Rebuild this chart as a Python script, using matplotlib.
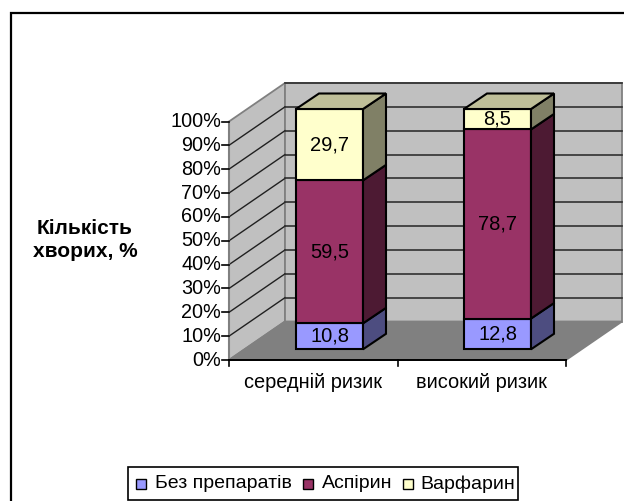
import matplotlib
matplotlib.use('Agg')
from matplotlib import pyplot as plt
from matplotlib.patches import Polygon, Rectangle
import numpy as np

categories = ['середній ризик', 'високий ризик']
series = ['Без препаратів', 'Аспірин', 'Варфарин']
no_drug = [10.8, 12.8]
aspirin = [59.5, 78.7]
warfarin = [29.7, 8.5]
y_ticks = [0, 10, 20, 30, 40, 50, 60, 70, 80, 90, 100]
y_labels = [f'{v}%' for v in y_ticks]

front = ['#9999FF', '#993366', '#FFFFCC']
side = ['#4D4D80', '#4D1A33', '#808066']
top = ['#BFBF99']

# plot box in image pixels
X0, X1 = 229, 566
Y0, Y100 = 360, 121.5
DX, DY = 56, -38.5
BAR_W = 67
BAR_LEFT = [296, 464]
BAR_BASE = 349.3
BAR_H = 240.3

plt.rcParams['font.family'] = ['Liberation Sans', 'DejaVu Sans']

fig = plt.figure(figsize=(6.24, 5.01), dpi=100)
ax = fig.add_axes([0, 0, 1, 1])
ax.set_xlim(0, 624)
ax.set_ylim(501, 0)
ax.axis('off')


def val_y(v):
    return Y0 - np.asarray(v) / 100 * (Y0 - Y100)


def bar_y(v):
    return BAR_BASE - np.asarray(v) / 100 * BAR_H


def poly(pts, fc, ec='black', lw=1.5, z=2):
    ax.add_patch(Polygon(pts, closed=True, fc=fc, ec=ec, lw=lw, zorder=z, joinstyle='miter'))


# outer frame
ax.add_patch(Rectangle((10.5, 12.5), 640, 520, fc='white', ec='black', lw=1.6, zorder=0))

# walls and floor
wall = '#C0C0C0'
edge = '#808080'
poly([(X0, Y0), (X0 + DX, Y0 + DY), (X0 + DX, Y100 + DY), (X0, Y100)], wall, edge, 1.3, 1)
poly([(X0 + DX, Y0 + DY), (X1 + DX, Y0 + DY), (X1 + DX, Y100 + DY), (X0 + DX, Y100 + DY)], wall, edge, 1.3, 1)
poly([(X0, Y0), (X1, Y0), (X1 + DX, Y0 + DY), (X0 + DX, Y0 + DY)], edge, edge, 1.3, 1)

# gridlines
for v in y_ticks[1:]:
    y = val_y(v)
    if v < 100:
        ax.plot([X0, X0 + DX], [y, y + DY], color='#202020', lw=1.0, zorder=1.5)
    ax.plot([X0 + DX, X1 + DX], [y + DY, y + DY], color='#303030', lw=1.2, zorder=1.5)

# axis lines and ticks
ax.plot([X0, X0], [Y100, Y0], color=edge, lw=1.5, zorder=1.6)
ax.plot([X0, X1], [Y0, Y0], color='black', lw=1.4, zorder=1.6)
for v, lab in zip(y_ticks, y_labels):
    y = val_y(v)
    ax.plot([X0 - 7, X0], [y, y], color='black', lw=1.2, zorder=1.6)
    ax.text(X0 - 8, y, lab, ha='right', va='center', fontsize=14.3, color='black')
for x in [X0, (X0 + X1) / 2, X1]:
    ax.plot([x, x], [Y0, Y0 + 6], color='black', lw=1.2, zorder=1.6)

# stacked bars
stacks = np.array([no_drug, aspirin, warfarin])
for i, cat in enumerate(categories):
    x = BAR_LEFT[i]
    base = 0
    ox, oy = 23, -15.5
    for j in range(len(series)):
        val = stacks[j, i]
        lo = bar_y(base)
        hi = bar_y(base + val)
        poly([(x, lo), (x + BAR_W, lo), (x + BAR_W, hi), (x, hi)], front[j], z=3)
        poly([(x + BAR_W, lo), (x + BAR_W + ox, lo + oy), (x + BAR_W + ox, hi + oy), (x + BAR_W, hi)], side[j], z=3)
        ax.text(x + BAR_W / 2, (lo + hi) / 2, f'{val}'.replace('.', ','), ha='center', va='center',
                fontsize=14.5, color='black', zorder=4)
        base += val
    poly([(x, hi), (x + BAR_W, hi), (x + BAR_W + ox, hi + oy), (x + ox, hi + oy)], top[0], z=3)
    ax.text((X0 + (X1 - X0) * (i + 0.5) / 2), 382, cat, ha='center', va='center', fontsize=14.4)

# axis title
ax.text(85, 240, 'Кількість\nхворих, %', ha='center', va='center', fontsize=15, fontweight='bold',
        linespacing=1.3)

# legend
ax.add_patch(Rectangle((127.5, 466.5), 390.5, 33.5, fc='white', ec='black', lw=1.2, zorder=2))
swatch_x = [136, 303, 403]
label_x = [155, 322, 420]
for sx, lx, name, c in zip(swatch_x, label_x, series, front):
    ax.add_patch(Rectangle((sx, 479), 10, 10, fc=c, ec='black', lw=1.0, zorder=3))
    ax.text(lx, 484, name, ha='left', va='center', fontsize=14.0, zorder=3)

fig.savefig('out.png', dpi=100)
